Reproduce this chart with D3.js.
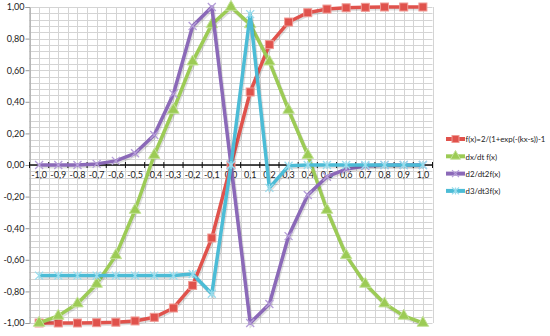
<!DOCTYPE html>
<html>
<head>
<meta charset="utf-8">
<script src="https://cdn.jsdelivr.net/npm/d3@7"></script>
<style>
  body { margin: 0; background: #fff; }
  svg text { font-family: Lato, "Open Sans", sans-serif; fill: #222; }
</style>
</head>
<body>
<div id="chart"></div>
<script>
// x categories
var xs = [-1.0, -0.9, -0.8, -0.7, -0.6, -0.5, -0.4, -0.3, -0.2, -0.1, 0.0,
          0.1, 0.2, 0.3, 0.4, 0.5, 0.6, 0.7, 0.8, 0.9, 1.0];

// values
var fx = [-1.00, -1.00, -1.00, -0.998, -0.995, -0.987, -0.964, -0.905, -0.762, -0.462, 0.00,
          0.462, 0.762, 0.905, 0.964, 0.987, 0.995, 0.998, 1.00, 1.00, 1.00];
var dfx = [-1.00, -0.955, -0.877, -0.753, -0.572, -0.285, 0.063, 0.348, 0.654, 0.89, 1.00,
           0.89, 0.654, 0.348, 0.063, -0.285, -0.572, -0.753, -0.877, -0.955, -1.00];
var d2fx = [0.00, 0.00, 0.00, 0.007, 0.026, 0.074, 0.19, 0.45, 0.88, 1.00, 0.00,
            -1.00, -0.88, -0.45, -0.19, -0.074, -0.026, -0.007, 0.00, 0.00, 0.00];
var d3fx = [-0.70, -0.70, -0.70, -0.70, -0.70, -0.70, -0.70, -0.70, -0.69, -0.815, 0.00,
            0.955, -0.145, -0.005, 0.00, 0.00, 0.00, 0.00, 0.00, 0.00, 0.00];

var seriesNames = ["f(x)=2/(1+exp(-(kx-s))-1", "dx/dt f(x)", "d2/dt2f(x)", "d3/dt3f(x)"];
var yTicks = [-1.0, -0.8, -0.6, -0.4, -0.2, 0.0, 0.2, 0.4, 0.6, 0.8, 1.0];

const width = 550;
const height = 336;
const plotLeft = 29.5, plotRight = 432.5, plotTop = 7, plotBottom = 323;

const colors = ["#e0524c", "#9ccb55", "#8b69b8", "#4cbcd6"];
const markerKinds = ["square", "triangle", "x", "star"];
const seriesData = [fx, dfx, d2fx, d3fx];

const x = d3.scaleBand()
    .domain(d3.range(xs.length))
    .range([plotLeft, plotRight]);

const y = d3.scaleLinear()
    .domain([-1, 1])
    .range([plotBottom, plotTop]);

const svg = d3.select("#chart").append("svg")
    .attr("width", width)
    .attr("height", height)
    .attr("viewBox", [0, 0, width, height]);

const fmt = v => d3.format(".2f")(v).replace(".", ",").replace("−", "-");
const fmtX = v => d3.format(".1f")(v).replace(".", ",").replace("−", "-");

// grid: horizontal every 0.04, vertical every half category
const grid = svg.append("g").attr("stroke", "#d4d4d4").attr("stroke-width", 1);
grid.selectAll("line.h")
    .data(d3.range(0, 51))
    .join("line")
    .attr("x1", plotLeft).attr("x2", plotRight)
    .attr("y1", i => Math.round(y(-1 + i * 0.04)) + 0.5)
    .attr("y2", i => Math.round(y(-1 + i * 0.04)) + 0.5);
grid.selectAll("line.v")
    .data(d3.range(0, xs.length * 2 + 1))
    .join("line")
    .attr("y1", plotTop).attr("y2", plotBottom)
    .attr("x1", i => Math.round(plotLeft + i * x.bandwidth() / 2) + 0.5)
    .attr("x2", i => Math.round(plotLeft + i * x.bandwidth() / 2) + 0.5);

// y axis
const yAxis = svg.append("g")
    .attr("transform", `translate(${plotLeft},0)`)
    .call(d3.axisLeft(y).tickValues(yTicks).tickSize(4).tickFormat(fmt));
yAxis.select(".domain").attr("stroke", "#999");
yAxis.selectAll(".tick line").attr("stroke", "#999");
yAxis.selectAll(".tick text").attr("x", -5).style("font-size", "9px");

// x axis at zero
const xAxis = svg.append("g")
    .attr("transform", `translate(0,${y(0)})`);
xAxis.append("line")
    .attr("x1", plotLeft).attr("x2", plotRight)
    .attr("stroke", "#111").attr("stroke-width", 1.5);
xAxis.selectAll("line.tk")
    .data(d3.range(xs.length + 1))
    .join("line")
    .attr("x1", i => plotLeft + i * x.bandwidth())
    .attr("x2", i => plotLeft + i * x.bandwidth())
    .attr("y1", -3).attr("y2", 3)
    .attr("stroke", "#111");
xAxis.selectAll("text")
    .data(xs)
    .join("text")
    .attr("x", (d, i) => x(i) + x.bandwidth() / 2)
    .attr("y", 13)
    .attr("text-anchor", "middle")
    .style("font-size", "9px")
    .text(d => fmtX(d));

function drawMarker(g, kind, color, size) {
    const s = size;
    if (kind === "square") {
        g.append("rect").attr("x", -s / 2).attr("y", -s / 2).attr("width", s).attr("height", s)
            .attr("fill", color).attr("stroke", "#f09a94").attr("stroke-width", 1);
    } else if (kind === "triangle") {
        g.append("path").attr("d", d3.symbol(d3.symbolTriangle, s * s * 0.9)())
            .attr("fill", color).attr("stroke", "#c4e29a").attr("stroke-width", 1);
    } else if (kind === "x") {
        g.append("path").attr("d", `M${-s / 2},${-s / 2}L${s / 2},${s / 2}M${-s / 2},${s / 2}L${s / 2},${-s / 2}`)
            .attr("stroke", "#b59ed8").attr("stroke-width", 1.3).attr("fill", "none");
    } else {
        g.append("path").attr("d", `M${-s / 2},${-s / 2}L${s / 2},${s / 2}M${-s / 2},${s / 2}L${s / 2},${-s / 2}M0,${-s / 2}L0,${s / 2}`)
            .attr("stroke", "#9adcec").attr("stroke-width", 1.3).attr("fill", "none");
    }
}

const line = d3.line()
    .x((d, i) => x(i) + x.bandwidth() / 2)
    .y(d => y(d));

seriesData.forEach((vals, k) => {
    const g = svg.append("g");
    g.append("path")
        .datum(vals)
        .attr("fill", "none")
        .attr("stroke", "#000").attr("stroke-opacity", 0.12)
        .attr("stroke-width", 4)
        .attr("transform", "translate(1,1.5)")
        .attr("d", line);
    g.append("path")
        .datum(vals)
        .attr("fill", "none")
        .attr("stroke", colors[k])
        .attr("stroke-width", 3.5)
        .attr("stroke-linejoin", "round")
        .attr("d", line);
    vals.forEach((v, i) => {
        const m = g.append("g").attr("transform", `translate(${x(i) + x.bandwidth() / 2},${y(v)})`);
        drawMarker(m, markerKinds[k], colors[k], 8);
    });
});

// legend
const legend = svg.append("g").attr("transform", "translate(446,139)");
const legendTexts = [];
seriesNames.forEach((name, k) => {
    const g = legend.append("g").attr("transform", `translate(0,${k * 17.3})`);
    g.append("line").attr("x1", 0).attr("x2", 19).attr("stroke", colors[k]).attr("stroke-width", 4);
    const m = g.append("g").attr("transform", "translate(9.5,0)");
    drawMarker(m, markerKinds[k], colors[k], 7);
    legendTexts.push(g.append("text").attr("x", 19.5).attr("y", 3.2).style("font-size", "9px").text(name));
});
// shrink legend font so the longest label fits inside the picture
const longest = d3.max(legendTexts, t => t.node().getComputedTextLength());
const legendSize = Math.min(9, 9 * 80 / longest);
legendTexts.forEach(t => t.style("font-size", legendSize + "px"));
</script>
</body>
</html>
